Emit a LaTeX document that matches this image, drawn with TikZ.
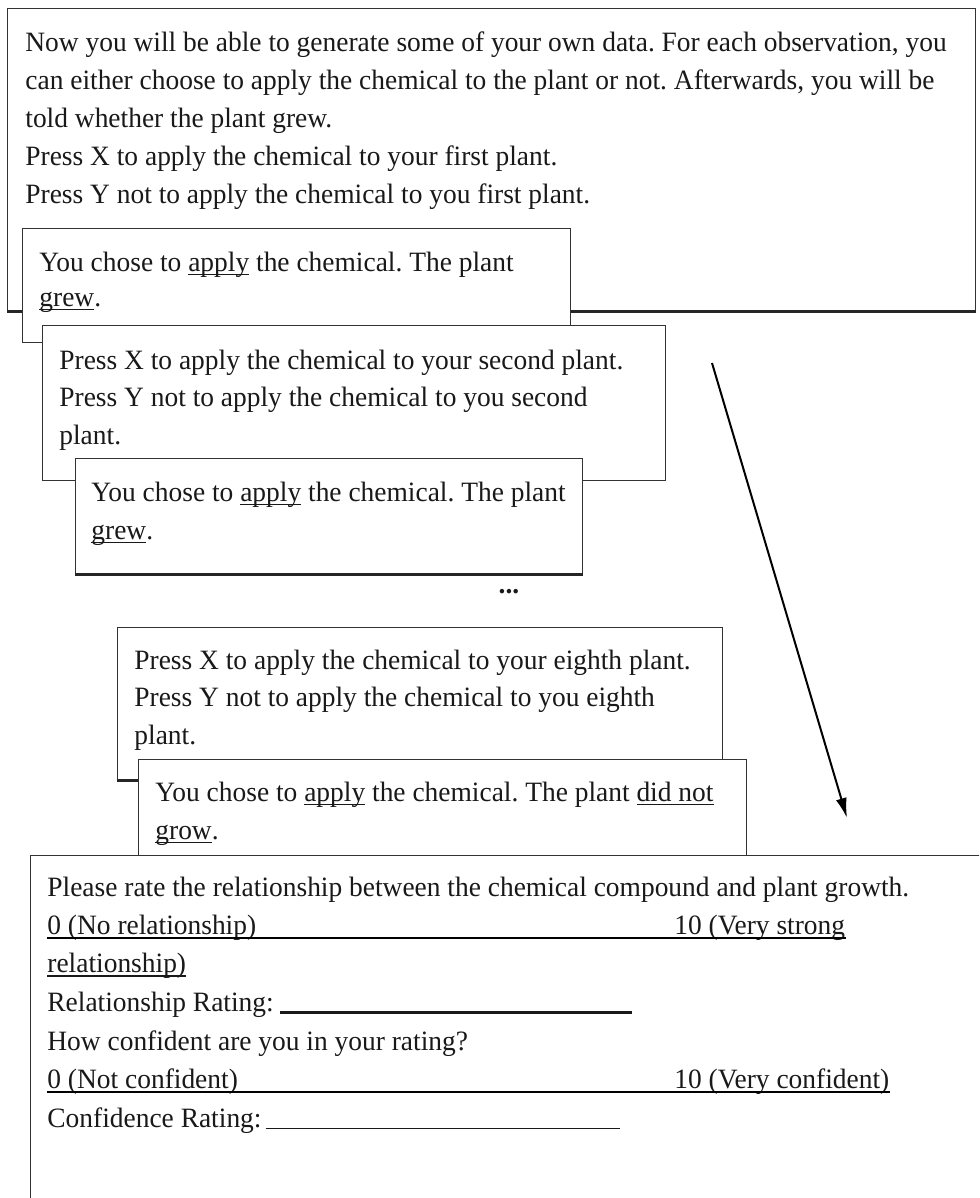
\documentclass[tikz,border=0pt]{standalone}
\usepackage{fontspec}
\setmainfont[FakeStretch=0.98]{Liberation Serif}
\usetikzlibrary{arrows.meta}
\frenchspacing

\newlength\px
\setlength\px{0.5pt}
\newcommand\ulword[1]{\setbox0\hbox{#1}\rlap{\rule[-2pt]{\wd0}{0.6pt}}\box0\relax}

\begin{document}
\begin{tikzpicture}[
    x=0.5pt, y=-0.5pt,
    panel/.style={draw=black!80, line width=0.7pt, fill=white,
                  anchor=north west, inner sep=0pt},
    txt/.style={anchor=base west, inner sep=0pt, text=black!90,
                font=\fontsize{14pt}{19pt}\selectfont},
    shade/.style={draw=black!85, line width=1.4pt}]

    \useasboundingbox (0,0) rectangle (979,1198);
    \clip (0,0) rectangle (979,1198);

    % Instructions
    \node[panel, minimum width=968\px, minimum height=302\px] (intro) at (7,8) {};
    \draw[shade] (intro.south west) -- (intro.south east);
    \foreach \t [count=\i] in {
        {Now you will be able to generate some of your own data. For each observation, you},
        {can either choose to apply the chemical to the plant or not. Afterwards, you will be},
        {told whether the plant grew.},
        {Press X to apply the chemical to your first plant.},
        {Press Y not to apply the chemical to you first plant.}} {
      \pgfmathsetmacro\yy{52+38*(\i-1)}
      \node[txt] (intro\i) at (25,\yy) {\t};
    }

    % First outcome
    \node[panel, minimum width=548\px, minimum height=114\px] (res1) at (22,228) {};
    \node[txt] (res1a) at (39,271) {You chose to \ulword{apply} the chemical. The plant};
    \node[txt] (res1b) at (39,306) {\ulword{grew}.};

    % Second plant
    \node[panel, minimum width=623\px, minimum height=155\px] (ask2) at (42,325) {};
    \foreach \t [count=\i] in {
        {Press X to apply the chemical to your second plant.},
        {Press Y not to apply the chemical to you second},
        {plant.}} {
      \pgfmathsetmacro\yy{369+37.5*(\i-1)}
      \node[txt] (ask2\i) at (59,\yy) {\t};
    }

    \node[panel, minimum width=507\px, minimum height=115\px] (res2) at (75,458) {};
    \draw[shade] (res2.south west) -- (res2.south east);
    \node[txt] (res2a) at (91,501) {You chose to \ulword{apply} the chemical. The plant};
    \node[txt] (res2b) at (91,539) {\ulword{grew}.};

    \node[txt, anchor=center, font=\fontsize{14pt}{19pt}\selectfont\bfseries] (dots) at (509,592) {...};

    % Eighth plant
    \node[panel, minimum width=605\px, minimum height=152\px] (ask8) at (117,627) {};
    \draw[shade] (ask8.south west) -- (ask8.south east);
    \foreach \t [count=\i] in {
        {Press X to apply the chemical to your eighth plant.},
        {Press Y not to apply the chemical to you eighth},
        {plant.}} {
      \pgfmathsetmacro\yy{669+37.5*(\i-1)}
      \node[txt] (ask8\i) at (134,\yy) {\t};
    }

    \node[panel, minimum width=608\px, minimum height=96\px] (res8) at (138,759) {};
    \node[txt] (res8a) at (155,801) {You chose to \ulword{apply} the chemical. The plant \ulword{did not}};
    \node[txt] (res8b) at (155,839) {\ulword{grow}.};

    % Rating screen
    \node[panel, minimum width=970\px, minimum height=370\px] (rate) at (30,855) {};
    \node[txt] (rateQ) at (47,896) {Please rate the relationship between the chemical compound and plant growth.};
    \node[txt] (relLo) at (47,934) {0 (No relationship)};
    \node[txt] (relHi) at (674,934) {10 (Very strong};
    \node[txt] (relHi2) at (47,972.5) {\ulword{relationship)}};
    \node[txt] (relRate) at (47,1011) {Relationship Rating:\hspace{3pt}\rule[-1.5pt]{176pt}{1.4pt}};
    \node[txt] (confQ) at (47,1050) {How confident are you in your rating?};
    \node[txt] (confLo) at (47,1088) {0 (Not confident)};
    \node[txt] (confHi) at (674,1088) {10 (Very confident)};
    \node[txt] (confRate) at (47,1127) {Confidence Rating:\hspace{2pt}\rule[-1pt]{177pt}{0.7pt}};

    \draw[line width=0.6pt] ([yshift=-2pt]relLo.base west) -- ([yshift=-2pt]relHi.base east);
    \draw[line width=1.2pt] ([yshift=-2pt]confLo.base west) -- ([yshift=-2pt]confHi.base east);

    % Time arrow
    \coordinate (timeA) at (712,363);
    \coordinate (timeB) at (847,818);
    \draw[line width=1pt, -{Latex[length=10pt, width=5.5pt]}] (timeA) -- (timeB);
\end{tikzpicture}
\end{document}
